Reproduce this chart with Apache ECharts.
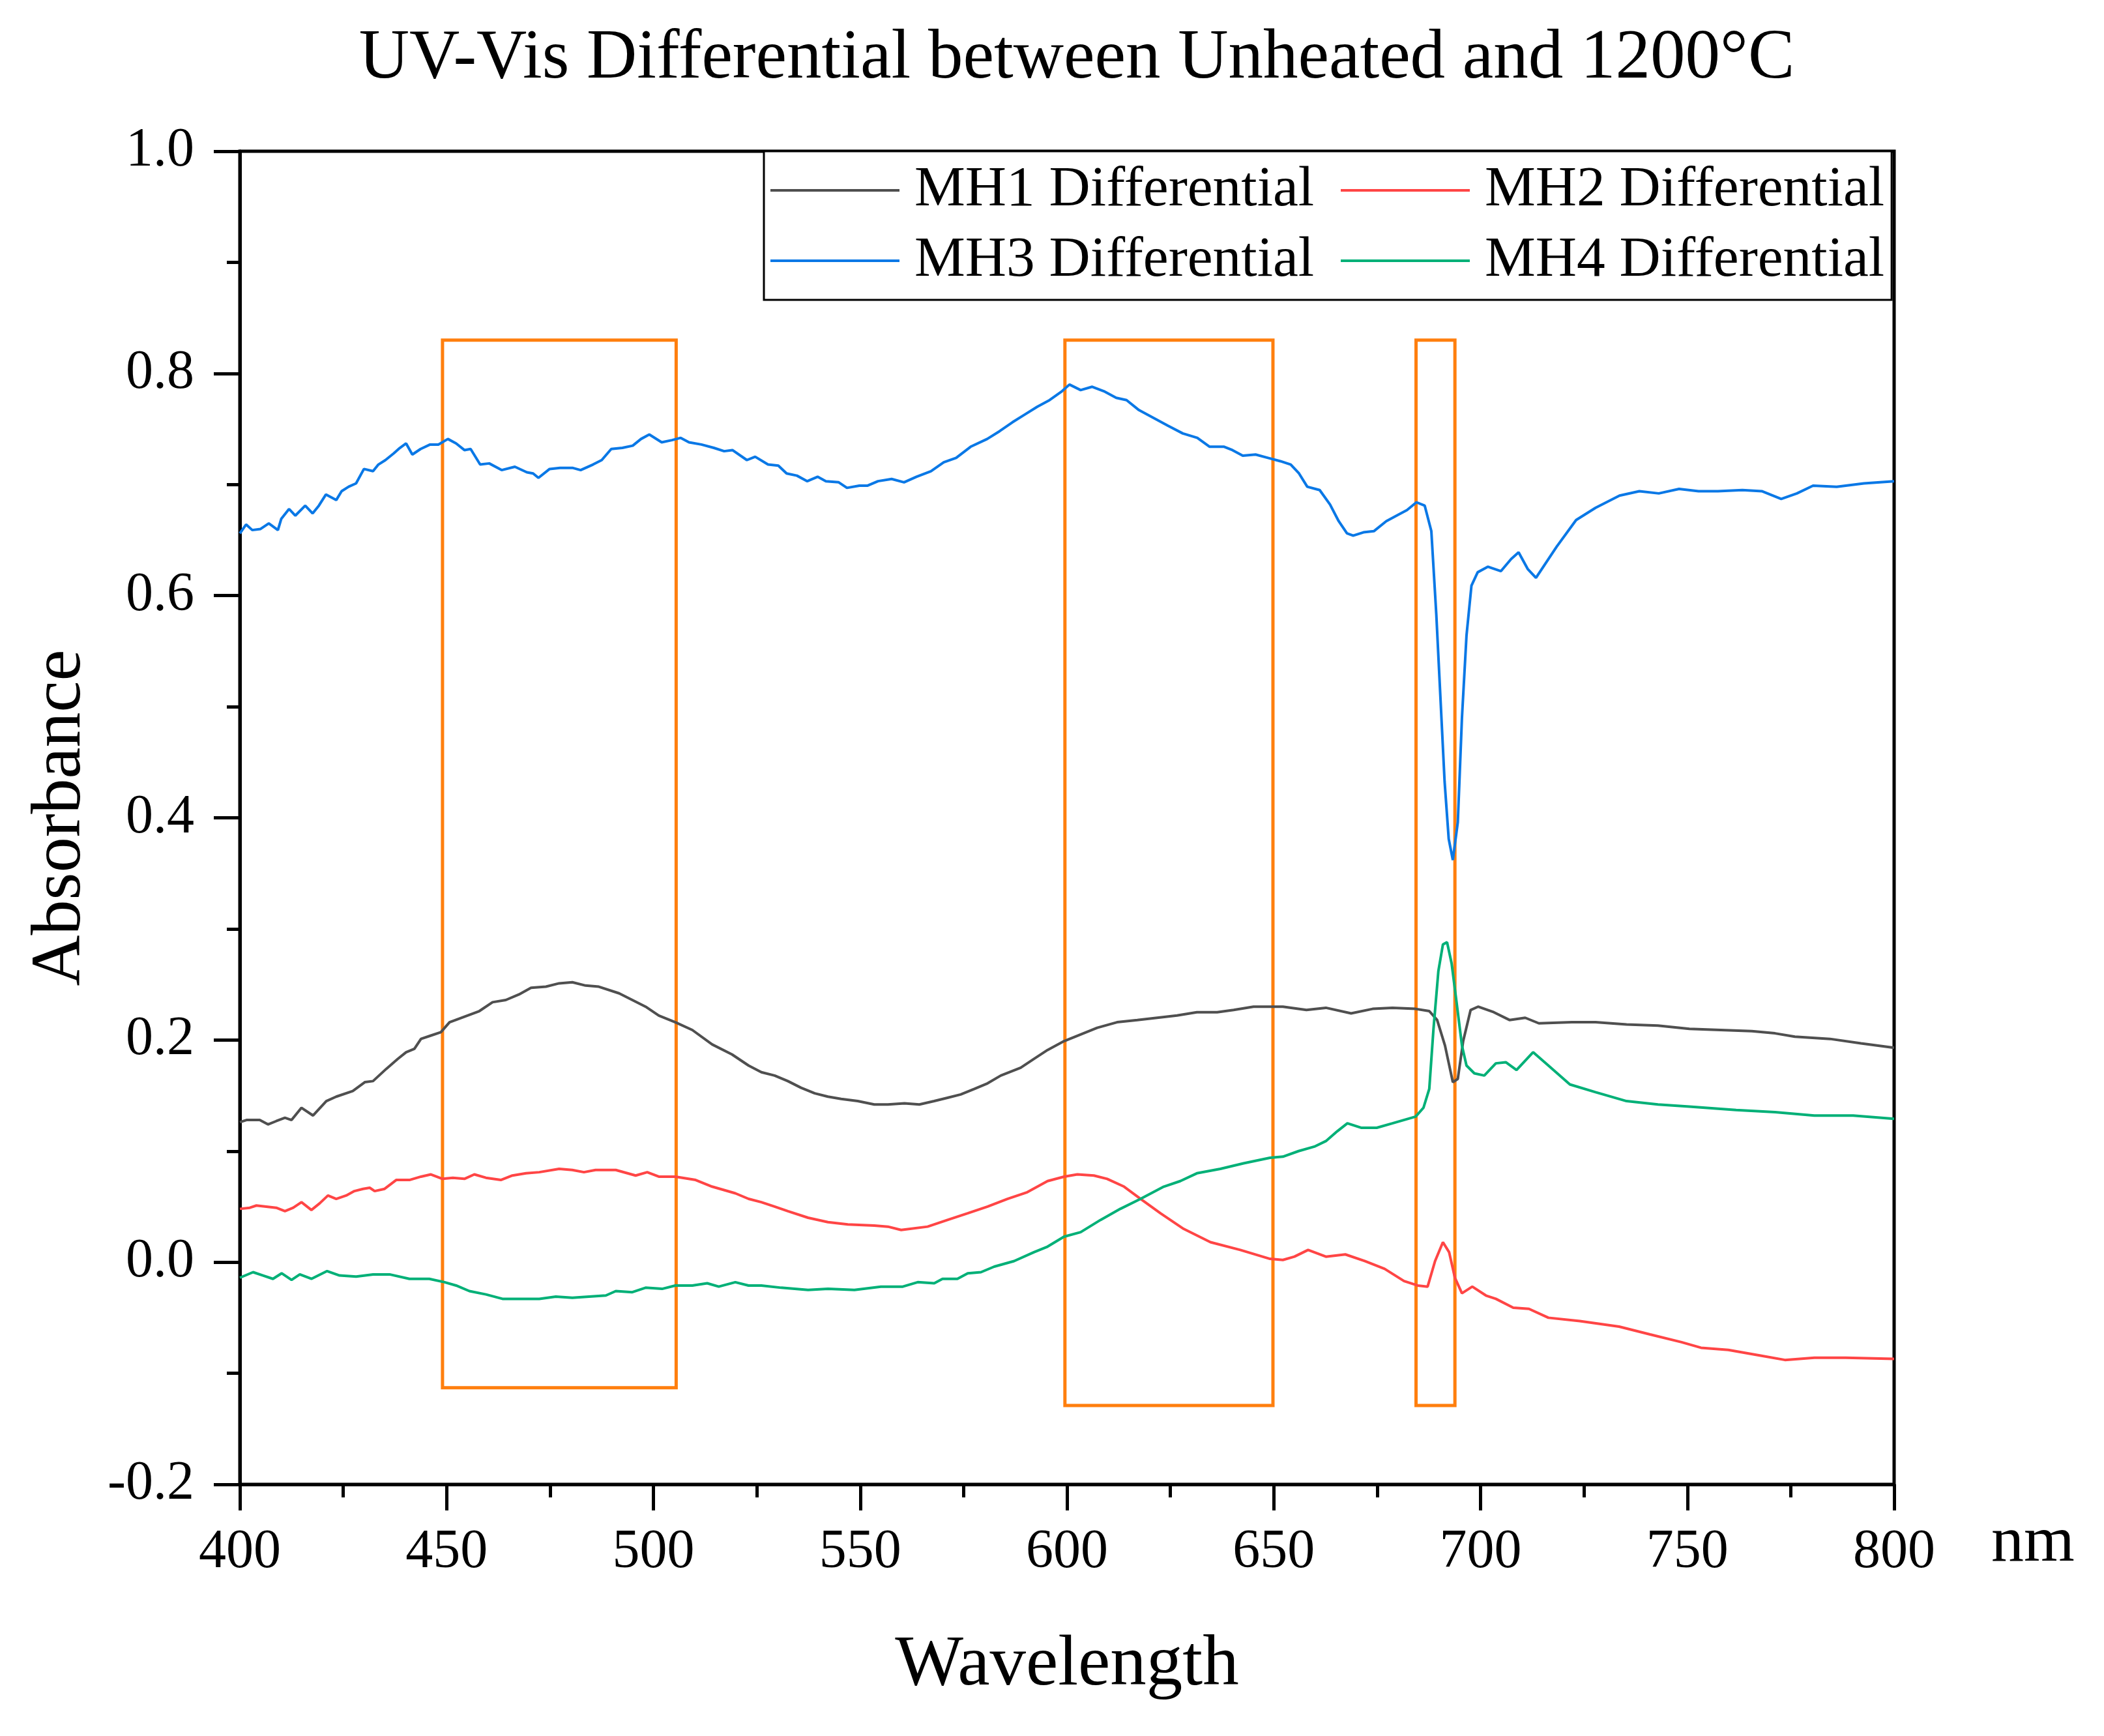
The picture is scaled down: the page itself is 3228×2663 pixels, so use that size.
<!DOCTYPE html>
<html>
<head>
<meta charset="utf-8">
<script src="https://cdn.jsdelivr.net/npm/echarts@6/dist/echarts.min.js"></script>
<style>html,body{margin:0;padding:0;background:#fff;}#c{width:3228px;height:2663px;}</style>
</head>
<body>
<div id="c"></div>
<script>
const seriesNames = ['MH1 Differential', 'MH2 Differential', 'MH3 Differential', 'MH4 Differential'];
const xTicks = { min: 400, max: 800, step: 50 };
const yTicks = { min: -0.2, max: 1.0, step: 0.2 };

const mh1 = [[400,0.126],[401.6,0.128],[403.2,0.128],[404.8,0.128],[406.8,0.124],[408.8,0.127],[410.9,0.130],[412.5,0.128],[414.9,0.139],[417.7,0.132],[420.9,0.145],[423.3,0.149],[427.3,0.154],[430.2,0.162],[432.2,0.163],[435.4,0.174],[438.2,0.183],[440.2,0.189],[442.2,0.192],[443.8,0.201],[446.2,0.204],[448.6,0.207],[450.7,0.216],[454.3,0.221],[457.9,0.226],[461.1,0.234],[464.3,0.236],[467.5,0.241],[470.4,0.247],[474,0.248],[477.2,0.251],[480.4,0.252],[483.6,0.249],[486.8,0.248],[491.7,0.242],[494.9,0.236],[498.1,0.230],[501.3,0.222],[505.3,0.216],[509.4,0.209],[514.2,0.196],[519,0.187],[523,0.177],[526.1,0.171],[529.3,0.168],[532.5,0.163],[535.7,0.157],[539,0.152],[542.2,0.149],[545.4,0.147],[549.4,0.145],[553.4,0.142],[556.7,0.142],[560.7,0.143],[564.3,0.142],[567.9,0.145],[571.1,0.148],[574.3,0.151],[577.6,0.156],[580.8,0.161],[584,0.168],[588.8,0.175],[592,0.183],[595.3,0.191],[599.3,0.199],[603.3,0.205],[607.3,0.211],[612.1,0.216],[617,0.218],[621.8,0.220],[626.6,0.222],[631.4,0.225],[636.3,0.225],[640.3,0.227],[645.1,0.230],[649.1,0.230],[652.2,0.230],[657.9,0.227],[662.6,0.229],[668.7,0.224],[673.9,0.228],[678.7,0.229],[684.3,0.228],[687.6,0.226],[689.5,0.218],[691.4,0.195],[693.3,0.162],[694.5,0.165],[695.8,0.199],[697.6,0.227],[699.4,0.230],[703.2,0.225],[707,0.218],[710.8,0.220],[714.1,0.215],[722.1,0.216],[727.8,0.216],[735.3,0.214],[742.9,0.213],[750.5,0.210],[758,0.209],[765.6,0.208],[771.2,0.206],[776,0.203],[784.5,0.201],[792,0.197],[800,0.193]];

const mh2 = [[400,0.048],[402.4,0.049],[404,0.051],[406.4,0.050],[408.8,0.049],[410.9,0.046],[412.9,0.049],[414.9,0.054],[417.3,0.047],[419.3,0.053],[421.3,0.060],[423.3,0.057],[425.7,0.060],[427.7,0.064],[429.8,0.066],[431.4,0.067],[432.6,0.064],[435,0.066],[437.8,0.074],[441,0.074],[443.8,0.077],[446.2,0.079],[449,0.075],[451.5,0.076],[454.3,0.075],[456.7,0.079],[459.5,0.076],[463.1,0.074],[465.9,0.078],[469.2,0.080],[472.4,0.081],[477.2,0.084],[480.4,0.083],[483.2,0.081],[486,0.083],[490.9,0.083],[495.7,0.078],[498.5,0.081],[501.3,0.077],[505.3,0.077],[510.2,0.074],[514.2,0.068],[519.8,0.062],[523,0.057],[526.1,0.054],[529.3,0.050],[532.5,0.046],[537.4,0.040],[542.2,0.036],[547,0.034],[553.4,0.033],[556.7,0.032],[559.9,0.029],[566.3,0.032],[571.1,0.038],[576,0.044],[580.8,0.050],[585.6,0.057],[590.4,0.063],[595.3,0.073],[599.3,0.077],[602.5,0.079],[606.5,0.078],[609.7,0.075],[613.8,0.068],[617.8,0.057],[622.6,0.044],[628.2,0.030],[634.7,0.018],[641.9,0.011],[649.1,0.003],[652.2,0.002],[655,0.005],[658.3,0.011],[662.6,0.005],[667.3,0.007],[672,0.001],[676.8,-0.006],[681.5,-0.017],[684.8,-0.021],[687.2,-0.022],[689,0.001],[690.9,0.018],[692.4,0.009],[693.8,-0.014],[695.5,-0.028],[698,-0.022],[701.3,-0.030],[703.7,-0.033],[707.9,-0.041],[711.7,-0.042],[716.4,-0.050],[724,-0.053],[733.5,-0.058],[741,-0.065],[748.6,-0.072],[753.3,-0.077],[759.9,-0.079],[767.5,-0.084],[773.6,-0.088],[780.7,-0.086],[788.3,-0.086],[800,-0.087]];

const mh3 = [[400,0.656],[401.5,0.664],[403,0.659],[405,0.660],[407,0.665],[409.2,0.659],[410,0.669],[411.9,0.678],[413.4,0.672],[415.8,0.681],[417.6,0.674],[419.1,0.681],[420.8,0.691],[423.3,0.686],[424.6,0.694],[426.3,0.698],[428.1,0.701],[430,0.714],[432.2,0.712],[433.5,0.718],[435.2,0.722],[437.2,0.728],[438.7,0.733],[440.2,0.737],[441.7,0.727],[443.7,0.732],[446,0.736],[448,0.736],[450.3,0.741],[452.3,0.737],[454.3,0.731],[455.8,0.732],[458.1,0.718],[460.3,0.719],[463.3,0.713],[466.5,0.716],[469.4,0.711],[470.9,0.710],[472.2,0.706],[474.9,0.714],[477.4,0.715],[480.4,0.715],[482.4,0.713],[485.4,0.718],[487.5,0.722],[489.8,0.732],[492.5,0.733],[495,0.735],[497,0.741],[499,0.745],[502,0.738],[504.5,0.740],[506.6,0.742],[508.6,0.738],[511.6,0.736],[514.6,0.733],[517.1,0.730],[519.1,0.731],[522.6,0.722],[524.6,0.725],[527.7,0.718],[530.2,0.717],[532.2,0.710],[534.7,0.708],[537.2,0.703],[539.7,0.707],[541.7,0.703],[544.8,0.702],[546.8,0.697],[549.8,0.699],[551.8,0.699],[554.3,0.703],[557.6,0.705],[560.6,0.702],[563.6,0.707],[567.1,0.712],[570.2,0.720],[573.2,0.724],[576.7,0.734],[580.7,0.741],[583.7,0.748],[586.8,0.756],[589.8,0.763],[592.8,0.770],[595.8,0.776],[598.8,0.784],[600.6,0.790],[603.3,0.785],[606.1,0.788],[608.9,0.784],[611.9,0.778],[614.4,0.776],[617.4,0.767],[620.9,0.760],[624.4,0.753],[628,0.746],[631.5,0.742],[634.5,0.734],[638,0.734],[640,0.731],[642.5,0.726],[645.6,0.727],[648.6,0.724],[651.6,0.721],[654.1,0.718],[656.1,0.710],[658.1,0.698],[661.1,0.695],[663.6,0.682],[665.7,0.667],[667.7,0.656],[669.2,0.654],[671.7,0.657],[674.2,0.658],[677.2,0.667],[680.2,0.673],[682.2,0.677],[684.5,0.684],[686.5,0.681],[688.1,0.658],[689.3,0.583],[690.3,0.508],[691.3,0.433],[692.3,0.381],[693.3,0.362],[694.5,0.396],[695.5,0.490],[696.6,0.564],[697.8,0.609],[699.3,0.621],[701.8,0.626],[704.9,0.622],[707.4,0.633],[709.2,0.639],[711.4,0.624],[713.4,0.616],[718.4,0.644],[723.1,0.668],[727.8,0.679],[733.6,0.690],[738.4,0.694],[743.1,0.692],[748,0.696],[752.7,0.694],[757.4,0.694],[763.3,0.695],[768,0.694],[772.7,0.687],[776.5,0.692],[780.4,0.699],[786.1,0.698],[792.7,0.701],[800,0.703]];

const mh4 = [[400,-0.014],[403.2,-0.009],[405.6,-0.012],[408,-0.015],[410.1,-0.010],[412.5,-0.016],[414.5,-0.011],[417.3,-0.015],[421.1,-0.008],[424.1,-0.012],[428.1,-0.013],[432.2,-0.011],[436.2,-0.011],[441,-0.015],[445.8,-0.015],[449.5,-0.018],[452.3,-0.021],[455.5,-0.026],[459.5,-0.029],[463.5,-0.033],[467.5,-0.033],[472.4,-0.033],[476.4,-0.031],[480.4,-0.032],[484.4,-0.031],[488.5,-0.030],[490.9,-0.026],[494.9,-0.027],[498.1,-0.023],[502.1,-0.024],[505.3,-0.021],[509.4,-0.021],[513,-0.019],[515.8,-0.022],[519.8,-0.018],[523,-0.021],[526.1,-0.021],[530.9,-0.023],[537.4,-0.025],[542.2,-0.024],[548.6,-0.025],[555,-0.022],[560.3,-0.022],[563.9,-0.018],[567.9,-0.019],[569.9,-0.015],[573.5,-0.015],[576,-0.010],[579.2,-0.009],[582.4,-0.004],[587.2,0.001],[592,0.009],[595.3,0.014],[599.3,0.023],[603.3,0.027],[608.1,0.038],[612.9,0.048],[617.8,0.057],[623.4,0.068],[627.4,0.073],[631.4,0.080],[637.1,0.084],[642.7,0.089],[649.1,0.094],[652.2,0.095],[656,0.100],[659.8,0.104],[662.6,0.109],[665.4,0.118],[667.8,0.125],[671.1,0.121],[674.9,0.121],[678.7,0.125],[684.3,0.131],[686.2,0.139],[687.6,0.156],[688.6,0.209],[689.8,0.262],[690.9,0.286],[691.9,0.288],[693,0.269],[694.2,0.234],[695.5,0.195],[696.6,0.177],[698.5,0.170],[700.9,0.168],[703.7,0.179],[706.1,0.180],[708.7,0.173],[712.7,0.189],[716.4,0.177],[721.6,0.160],[727.8,0.153],[735.3,0.145],[742.9,0.142],[750.5,0.140],[761.8,0.137],[771.2,0.135],[780.7,0.132],[790.1,0.132],[800,0.129]];

// highlight boxes: [xStart, xEnd, yBottom, yTop] in data units
const boxes = [[449.0, 505.5, -0.113, 0.830], [599.5, 649.8, -0.129, 0.830], [684.4, 693.8, -0.129, 0.830]];

const colors = ['#4F4F4F', '#FF4545', '#0A78E6', '#00B077'];
const FONT = 'Liberation Serif';

const chart = echarts.init(document.getElementById('c'), null, { renderer: 'canvas' });
const seriesData = [mh1, mh2, mh3, mh4];

const series = seriesNames.map((name, i) => {
  const s = {
    name: name,
    type: 'line',
    data: seriesData[i],
    symbol: 'none',
    showSymbol: false,
    smooth: false,
    lineStyle: { color: colors[i], width: 4 },
    itemStyle: { color: colors[i] },
    z: 3
  };
  if (i === 0) {
    s.markArea = {
      silent: true,
      itemStyle: { color: 'rgba(0,0,0,0)', borderColor: '#FF7F0E', borderWidth: 5 },
      data: boxes.map(b => [{ coord: [b[0], b[3]] }, { coord: [b[1], b[2]] }])
    };
  }
  return s;
});

const legendText = { fontFamily: FONT, fontSize: 87.5, color: '#000', padding: [0, 0, 0, 18] };

chart.setOption({
  animation: false,
  backgroundColor: '#ffffff',
  title: {
    text: 'UV-Vis Differential between Unheated and 1200°C',
    left: 1652,
    top: 91,
    padding: 0,
    textAlign: 'center',
    textVerticalAlign: 'middle',
    textStyle: { fontFamily: FONT, fontSize: 107, fontWeight: 'normal', color: '#000' }
  },
  legend: [{
    data: [seriesNames[0], seriesNames[2]],
    left: 1172,
    top: 232,
    orient: 'vertical',
    icon: 'rect',
    itemWidth: 198,
    itemHeight: 4,
    itemGap: 20,
    padding: [16, 886, 16, 10],
    borderColor: '#000',
    borderWidth: 3,
    backgroundColor: '#fff',
    textStyle: legendText,
    z: 4
  }, {
    data: [seriesNames[1], seriesNames[3]],
    left: 2057,
    top: 232,
    orient: 'vertical',
    icon: 'rect',
    itemWidth: 198,
    itemHeight: 4,
    itemGap: 20,
    padding: [16, 0, 16, 0],
    borderWidth: 0,
    backgroundColor: 'rgba(0,0,0,0)',
    textStyle: legendText,
    z: 5
  }],
  grid: {
    left: 368, right: 322, top: 232, bottom: 386,
    show: true, borderColor: '#000', borderWidth: 5, backgroundColor: 'rgba(0,0,0,0)',
    containLabel: false
  },
  xAxis: [{
    type: 'value',
    min: xTicks.min, max: xTicks.max, interval: xTicks.step,
    name: 'Wavelength',
    nameLocation: 'middle',
    nameGap: 222,
    nameTextStyle: { fontFamily: FONT, fontSize: 111, color: '#000' },
    axisLine: { show: true, onZero: false, lineStyle: { color: '#000', width: 5 } },
    axisTick: { show: true, inside: false, length: 40, lineStyle: { color: '#000', width: 5 } },
    minorTick: { show: true, splitNumber: 2, length: 20, lineStyle: { color: '#000', width: 5 } },
    splitLine: { show: false },
    axisLabel: { fontFamily: FONT, fontSize: 84, color: '#000', margin: 63, lineHeight: 84 }
  }, {
    type: 'value',
    position: 'bottom',
    offset: 91,
    min: xTicks.min, max: xTicks.max,
    name: 'nm',
    nameLocation: 'end',
    nameGap: 149,
    nameTextStyle: { fontFamily: FONT, fontSize: 100, color: '#000', verticalAlign: 'middle' },
    axisLine: { show: false, onZero: false },
    axisTick: { show: false },
    axisLabel: { show: false },
    splitLine: { show: false }
  }],
  yAxis: {
    type: 'value',
    min: yTicks.min, max: yTicks.max, interval: yTicks.step,
    name: 'Absorbance',
    nameLocation: 'middle',
    nameGap: 220,
    nameTextStyle: { fontFamily: FONT, fontSize: 108, color: '#000' },
    axisLine: { show: true, onZero: false, lineStyle: { color: '#000', width: 5 } },
    axisTick: { show: true, inside: false, length: 40, lineStyle: { color: '#000', width: 5 } },
    minorTick: { show: true, splitNumber: 2, length: 20, lineStyle: { color: '#000', width: 5 } },
    splitLine: { show: false },
    axisLabel: { fontFamily: FONT, fontSize: 84, color: '#000', margin: 70, formatter: v => v.toFixed(1) }
  },
  series: series
});
</script>
</body>
</html>
